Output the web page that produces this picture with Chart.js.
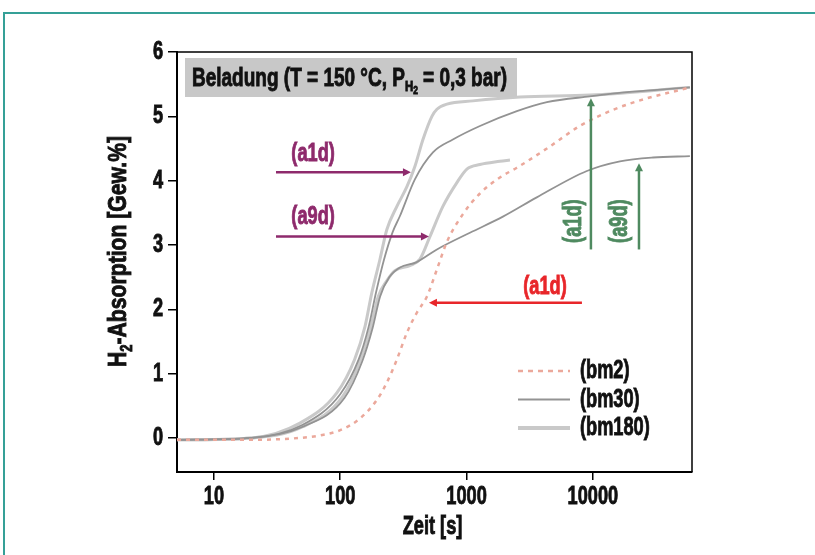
<!DOCTYPE html>
<html>
<head>
<meta charset="utf-8">
<script src="https://cdn.jsdelivr.net/npm/chart.js@4.4.1/dist/chart.umd.min.js"></script>
<style>
  html, body { margin: 0; padding: 0; background: #fff; }
  #wrap { position: relative; width: 815px; height: 555px; overflow: hidden; }
  #frame { position: absolute; left: 3px; top: 12px; width: 830px; height: 560px;
           border-left: 2px solid #35a097; border-top: 2px solid #35a097; }
  canvas { position: absolute; left: 0; top: 0; }
</style>
</head>
<body>
<div id="wrap">
  <div id="frame"></div>
  <canvas id="chart" width="815" height="555"></canvas>
</div>
<script>
// axis ticks
const timeTicks = [10, 100, 1000, 10000];
const absTicks = [0, 1, 2, 3, 4, 5, 6];

// (bm2) a1d - dashed
const bm2A1dTime = [5.1, 20, 48, 70, 100, 143, 195, 234, 281, 338, 405, 486, 583, 700, 937, 1277, 1838, 2500, 4330, 7900, 14400, 26800, 49000, 58700];
const bm2A1dAbs  = [-0.03, -0.03, 0.0, 0.04, 0.12, 0.3, 0.59, 0.86, 1.22, 1.64, 1.95, 2.2, 2.62, 3.05, 3.48, 3.8, 4.05, 4.2, 4.5, 4.85, 5.1, 5.28, 5.41, 5.45];

// (bm30) a1d / a9d
const bm30A1dTime = [5.1, 20, 50, 100, 140, 168, 192, 222, 260, 297, 390, 542, 780, 1277, 2505, 4330, 9480, 19700, 58700];
const bm30A1dAbs  = [-0.03, 0.0, 0.2, 0.68, 1.22, 1.73, 2.26, 2.77, 3.2, 3.45, 4.02, 4.44, 4.64, 4.85, 5.08, 5.22, 5.31, 5.38, 5.45];
const bm30A9dTime = [5.1, 20, 50, 108, 150, 180, 207, 245, 297, 400, 583, 1064, 1941, 3600, 8970, 16400, 30000, 58700];
const bm30A9dAbs  = [-0.03, 0.0, 0.17, 0.62, 1.2, 1.7, 2.2, 2.5, 2.65, 2.73, 2.93, 3.19, 3.44, 3.74, 4.15, 4.3, 4.36, 4.38];

// (bm180) a1d / a9d
const bm180A1dTime = [5.1, 20, 48, 94, 130, 157, 178, 206, 234, 281, 338, 390, 452, 532, 583, 700, 1123, 2650, 9500, 58700];
const bm180A1dAbs  = [-0.03, 0.0, 0.23, 0.7, 1.22, 1.73, 2.26, 2.77, 3.24, 3.6, 3.91, 4.22, 4.64, 5.0, 5.11, 5.19, 5.24, 5.3, 5.33, 5.45];
const bm180A9dTime = [5.1, 20, 50, 105, 145, 175, 200, 235, 271, 356, 428, 513, 650, 839, 1007, 1277, 1838, 2208];
const bm180A9dAbs  = [-0.03, 0.0, 0.17, 0.65, 1.22, 1.73, 2.2, 2.45, 2.6, 2.68, 2.78, 3.13, 3.6, 3.97, 4.18, 4.25, 4.3, 4.32];

// legend
const legendLabels = ['(bm2)', '(bm30)', '(bm180)'];

// arrows: label, colour, start (time, abs), end (time, abs), label position (time, abs), vertical text
const arrowLabels = ['(a1d)', '(a9d)', '(a1d)', '(a1d)', '(a9d)'];
const arrowColors = ['#8e2a6c', '#8e2a6c', '#e8262a', '#4f8a60', '#4f8a60'];
const arrowFrom   = [[31, 4.13], [31, 3.13], [8200, 2.1], [9660, 2.93], [23200, 2.93]];
const arrowTo     = [[363, 4.13], [504, 3.13], [504, 2.1], [9660, 5.28], [23200, 4.27]];
const arrowText   = [[61, 4.41], [61, 3.43], [4180, 2.35], [7080, 3.37], [16400, 3.37]];
const arrowVert   = [false, false, false, true, true];

const FONT = "'Liberation Sans', Arial, sans-serif";
const SX = 0.7;       // condensed look
const FS = 26;
const C_BM2 = '#eba89b';
const C_BM30 = '#939393';
const C_BM180 = '#c9c9c9';

const pts = (t, a) => t.map((v, i) => ({ x: v, y: a[i] }));

function sText(ctx, str, x, y, size, color, align, sx) {
  ctx.save();
  ctx.font = 'bold ' + size + 'px ' + FONT;
  ctx.fillStyle = color;
  ctx.strokeStyle = color;
  ctx.lineWidth = 0.9;
  ctx.textAlign = align || 'center';
  ctx.textBaseline = 'middle';
  ctx.translate(x, y);
  ctx.scale(sx || SX, 1);
  ctx.fillText(str, 0, 0);
  ctx.strokeText(str, 0, 0);
  ctx.restore();
}

// text with subscript parts: [[str, size, dy], ...], fitted to width
function richText(ctx, parts, x, y, width, color) {
  ctx.save();
  let w = 0;
  parts.forEach(p => { ctx.font = 'bold ' + p[1] + 'px ' + FONT; w += ctx.measureText(p[0]).width; });
  const k = width / w;
  ctx.translate(x, y);
  ctx.scale(k, 1);
  ctx.fillStyle = color;
  ctx.strokeStyle = color;
  ctx.lineWidth = 0.9;
  ctx.textBaseline = 'alphabetic';
  ctx.textAlign = 'left';
  let cx = 0;
  parts.forEach(p => {
    ctx.font = 'bold ' + p[1] + 'px ' + FONT;
    ctx.fillText(p[0], cx, p[2]);
    ctx.strokeText(p[0], cx, p[2]);
    cx += ctx.measureText(p[0]).width;
  });
  ctx.restore();
}

function drawArrow(ctx, x1, y1, x2, y2, color) {
  const ang = Math.atan2(y2 - y1, x2 - x1);
  const head = 8;
  ctx.save();
  ctx.strokeStyle = color; ctx.fillStyle = color; ctx.lineWidth = 2.5;
  ctx.beginPath();
  ctx.moveTo(x1, y1);
  ctx.lineTo(x2 - Math.cos(ang) * head * 0.8, y2 - Math.sin(ang) * head * 0.8);
  ctx.stroke();
  ctx.beginPath();
  ctx.moveTo(x2, y2);
  ctx.lineTo(x2 - Math.cos(ang) * head + Math.sin(ang) * 4, y2 - Math.sin(ang) * head - Math.cos(ang) * 4);
  ctx.lineTo(x2 - Math.cos(ang) * head - Math.sin(ang) * 4, y2 - Math.sin(ang) * head + Math.cos(ang) * 4);
  ctx.closePath();
  ctx.fill();
  ctx.restore();
}

const decor = {
  id: 'decor',
  afterDatasetsDraw(chart) {
    const { ctx, chartArea: a, scales: { x, y } } = chart;
    ctx.save();

    // box top / right
    ctx.strokeStyle = '#000'; ctx.lineWidth = 1.5;
    ctx.beginPath();
    ctx.moveTo(a.left, a.top); ctx.lineTo(a.right, a.top); ctx.lineTo(a.right, a.bottom);
    ctx.stroke();

    // tick labels
    x.ticks.forEach(t => sText(ctx, String(t.value), x.getPixelForValue(t.value), a.bottom + 25, FS, '#111', 'center'));
    y.ticks.forEach(t => sText(ctx, String(t.value), a.left - 14, y.getPixelForValue(t.value), FS, '#111', 'right'));

    // title box
    ctx.fillStyle = '#c8c8c8';
    ctx.fillRect(a.left + 8, a.top + 6, 332, 39);
    richText(ctx, [['Beladung (T = 150 °C, P', 25, 0], ['H', 15, 5], ['2', 11, 8], [' = 0,3 bar)', 25, 0]],
      a.left + 15, a.top + 34, 315, '#111');

    // arrows + labels
    arrowLabels.forEach((lab, i) => {
      const c = arrowColors[i];
      drawArrow(ctx, x.getPixelForValue(arrowFrom[i][0]), y.getPixelForValue(arrowFrom[i][1]),
        x.getPixelForValue(arrowTo[i][0]), y.getPixelForValue(arrowTo[i][1]), c);
      const px = x.getPixelForValue(arrowText[i][0]);
      const py = y.getPixelForValue(arrowText[i][1]);
      ctx.save();
      ctx.translate(px, py);
      if (arrowVert[i]) ctx.rotate(-Math.PI / 2);
      sText(ctx, lab, 0, 0, FS, c, 'center');
      ctx.restore();
    });

    // legend
    const styles = [
      { color: C_BM2, width: 2.5, dash: [5, 5] },
      { color: C_BM30, width: 2, dash: [] },
      { color: C_BM180, width: 4, dash: [] }
    ];
    legendLabels.forEach((lab, i) => {
      const ly = a.top + 319 + i * 28.5;
      const lx = a.left + 341;
      ctx.save();
      ctx.strokeStyle = styles[i].color; ctx.lineWidth = styles[i].width;
      ctx.setLineDash(styles[i].dash);
      ctx.beginPath(); ctx.moveTo(lx, ly); ctx.lineTo(lx + 52, ly); ctx.stroke();
      ctx.restore();
      sText(ctx, lab, lx + 62, ly, FS, '#111', 'left');
    });

    // y axis title with subscript
    ctx.save();
    ctx.translate(126, 252);
    ctx.rotate(-Math.PI / 2);
    richText(ctx, [['H', FS, 0], ['2', 16, 6], ['-Absorption [Gew.%]', FS, 0]], -115, 0, 231, '#111');
    ctx.restore();

    // x axis title
    sText(ctx, 'Zeit [s]', (a.left + a.right) / 2 - 2, 527, FS, '#111', 'center');

    ctx.restore();
  }
};

const line = (t, a, color, width, dash, order) => ({
  data: pts(t, a), borderColor: color, borderWidth: width, borderDash: dash,
  pointRadius: 0, fill: false, cubicInterpolationMode: 'monotone', order: order
});

new Chart(document.getElementById('chart'), {
  type: 'line',
  data: {
    datasets: [
      line(bm180A1dTime, bm180A1dAbs, C_BM180, 3, [], 5),
      line(bm180A9dTime, bm180A9dAbs, C_BM180, 3, [], 4),
      line(bm30A1dTime, bm30A1dAbs, C_BM30, 1.8, [], 3),
      line(bm30A9dTime, bm30A9dAbs, C_BM30, 1.8, [], 2),
      line(bm2A1dTime, bm2A1dAbs, C_BM2, 2.5, [4, 5], 1)
    ]
  },
  options: {
    responsive: false,
    animation: false,
    layout: { padding: { left: 0, top: 52, right: 123, bottom: 0 } },
    plugins: { legend: { display: false }, tooltip: { enabled: false } },
    scales: {
      x: {
        type: 'logarithmic', min: 5.1, max: 61000,
        afterBuildTicks: s => { s.ticks = timeTicks.map(v => ({ value: v })); },
        afterFit: s => { s.height = 83; },
        grid: { drawOnChartArea: false, tickLength: 8, color: '#000', lineWidth: 1.5 },
        border: { color: '#000', width: 2 },
        ticks: { display: false }
      },
      y: {
        type: 'linear', min: -0.53, max: 6,
        afterBuildTicks: s => { s.ticks = absTicks.map(v => ({ value: v })); },
        afterFit: s => { s.width = 177; },
        grid: { drawOnChartArea: false, tickLength: 9, color: '#000', lineWidth: 1.5 },
        border: { color: '#000', width: 2 },
        ticks: { display: false }
      }
    }
  },
  plugins: [decor]
});
</script>
</body>
</html>
